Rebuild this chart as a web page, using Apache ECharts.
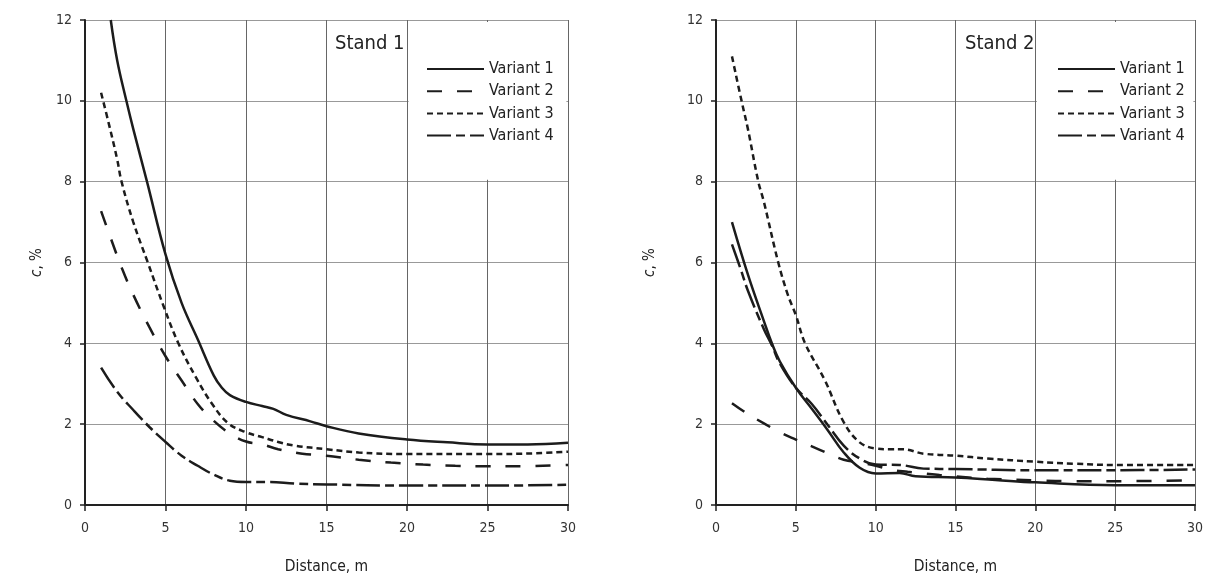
<!DOCTYPE html>
<html>
<head>
<meta charset="utf-8">
<script src="https://cdn.jsdelivr.net/npm/echarts@6/dist/echarts.min.js"></script>
<style>
  body { margin: 0; background: #fff; }
  #wrap { position: relative; width: 1206px; height: 581px; }
  .chart { position: absolute; top: 0; width: 603px; height: 581px; }
</style>
</head>
<body>
<div id="wrap">
  <div id="c1" class="chart" style="left:0"></div>
  <div id="c2" class="chart" style="left:603px"></div>
</div>
<script>
// Stand 1 — [distance m, c %]
const stand1_v1 = [[1.6, 12.0], [2, 11.0], [2.57, 10.0], [3, 9.3], [3.85, 8.0], [5, 6.2], [6, 5.0], [7, 4.1],
  [8, 3.2], [8.5, 2.9], [9, 2.72], [10, 2.55], [11, 2.45], [11.7, 2.38], [12.5, 2.23], [14, 2.07], [15, 1.95],
  [17, 1.77], [20, 1.62], [22.5, 1.55], [25, 1.5], [27.5, 1.5], [30, 1.54]];
const stand1_v2 = [[1, 7.27], [1.6, 6.6], [2.3, 5.85], [3, 5.2], [4, 4.4], [5, 3.68], [6, 3.08], [7, 2.5],
  [8, 2.08], [9, 1.77], [10, 1.57], [11, 1.5], [12, 1.38], [13.5, 1.27], [15, 1.22], [17, 1.12], [19, 1.05],
  [21, 1.0], [23, 0.97], [25, 0.96], [27, 0.96], [30, 0.99]];
const stand1_v3 = [[1, 10.2], [1.5, 9.4], [2, 8.55], [2.27, 8.0], [3, 7.0], [3.9, 6.0], [4.9, 4.9], [5.8, 4.0],
  [6.9, 3.15], [7.9, 2.5], [8.9, 2.02], [10, 1.8], [11, 1.68], [12, 1.56], [13, 1.47], [15, 1.38], [17, 1.3],
  [20, 1.26], [25, 1.26], [28, 1.28], [30, 1.32]];
const stand1_v4 = [[1, 3.4], [2, 2.8], [3, 2.35], [4, 1.93], [5, 1.56], [6, 1.22], [7, 0.97], [8, 0.75],
  [9, 0.6], [10, 0.57], [11.5, 0.57], [13, 0.53], [15, 0.51], [20, 0.48], [25, 0.48], [30, 0.5]];

// Stand 2
const stand2_v1 = [[1, 7.0], [2, 5.7], [3, 4.55], [3.5, 4.0], [4, 3.55], [5, 2.9], [6, 2.38], [7, 1.85],
  [8, 1.3], [9, 0.92], [10, 0.78], [11.5, 0.79], [12.5, 0.71], [15, 0.68], [17.5, 0.62], [20, 0.56],
  [25, 0.49], [30, 0.49]];
const stand2_v2 = [[1, 2.52], [2, 2.25], [3, 2.02], [4, 1.8], [5, 1.62], [6, 1.45], [7, 1.28], [8, 1.12],
  [9, 1.05], [10, 0.97], [11, 0.87], [12, 0.82], [13, 0.78], [14, 0.74], [15, 0.71], [17, 0.65], [20, 0.61],
  [22.5, 0.59], [25, 0.59], [30, 0.61]];
const stand2_v3 = [[1, 11.1], [1.6, 10.0], [2, 9.3], [2.65, 8.0], [3, 7.5], [3.9, 6.0], [4.5, 5.2], [5, 4.7],
  [5.58, 4.0], [6.8, 3.1], [8, 2.05], [9, 1.55], [10, 1.4], [11, 1.38], [11.7, 1.38], [13, 1.27], [15, 1.22],
  [17, 1.15], [20, 1.07], [22.5, 1.02], [25, 0.99], [30, 0.99]];
const stand2_v4 = [[1, 6.45], [1.56, 5.82], [2, 5.3], [3, 4.35], [3.5, 3.95], [4, 3.5], [5, 2.9], [6, 2.5],
  [7, 1.98], [8, 1.47], [9, 1.15], [10, 1.0], [11.5, 0.99], [13, 0.9], [15, 0.89], [20, 0.86], [25, 0.86],
  [30, 0.88]];

const variantNames = ["Variant 1", "Variant 2", "Variant 3", "Variant 4"];
const dashTypes = ["solid", [15, 15], [6, 4], [24, 5, 9, 5]];

const FONT = "'DejaVu Sans Condensed', 'Liberation Sans Narrow', sans-serif";
const INK = "#1c1c1c";

function makeOption(title, seriesData, opts) {
  return {
    animation: false,
    textStyle: { fontFamily: FONT },
    title: {
      text: title,
      left: opts.titleLeft,
      top: 34,
      padding: 0,
      textStyle: { fontFamily: FONT, fontSize: 20, fontWeight: "normal", color: "#222" },
    },
    legend: {
      data: variantNames,
      orient: "vertical",
      left: opts.legendLeft,
      top: 61,
      padding: 0,
      itemWidth: 57,
      itemHeight: 14,
      itemGap: 6.2,
      itemStyle: { color: "rgba(0,0,0,0)", borderColor: "rgba(0,0,0,0)", borderWidth: 0 },
      textStyle: { fontFamily: FONT, fontSize: 16, color: "#222" },
    },
    grid: { left: opts.gridLeft, top: 20, width: 483, height: 485 },
    xAxis: {
      type: "value",
      min: 0,
      max: 30,
      interval: 5,
      name: "Distance, m",
      nameLocation: "middle",
      nameGap: 54,
      nameTextStyle: { fontFamily: FONT, fontSize: 15.5, color: "#222" },
      axisLine: { lineStyle: { color: "#222", width: 2 } },
      axisTick: { length: 6, lineStyle: { color: "#222", width: 1.5 } },
      axisLabel: { margin: 16, fontFamily: FONT, fontSize: 14, color: "#333" },
      splitLine: { lineStyle: { color: "#666", width: 1 } },
    },
    yAxis: {
      type: "value",
      min: 0,
      max: 12,
      interval: 2,
      name: "{i|c}, %",
      nameLocation: "middle",
      nameRotate: 90,
      nameGap: opts.yNameGap,
      nameTextStyle: {
        fontFamily: FONT, fontSize: 15, color: "#222",
        rich: { i: { fontStyle: "italic", fontFamily: FONT, fontSize: 15, color: "#222" } },
      },
      axisLine: { show: true, lineStyle: { color: "#222", width: 2 } },
      axisTick: { show: true, length: 5, lineStyle: { color: "#222", width: 1.5 } },
      axisLabel: { margin: 13, fontFamily: FONT, fontSize: 14, color: "#333" },
      splitLine: { lineStyle: { color: "#999", width: 1 } },
    },
    series: seriesData.map((d, i) => ({
      name: variantNames[i],
      type: "line",
      data: d,
      symbol: "none",
      smooth: 0.4,
      lineStyle: { color: INK, width: 2.5, type: dashTypes[i] },
      itemStyle: { color: INK },
      // white box behind the legend hides the grid there
      markArea: i === 0 ? {
        silent: true,
        itemStyle: { color: "#fff", opacity: 1, borderWidth: 0 },
        data: [[{ coord: [20.1, 8.05] }, { coord: [29.9, 11.95] }]],
      } : undefined,
    })),
  };
}

const chart1 = echarts.init(document.getElementById("c1"));
chart1.setOption(makeOption("Stand 1", [stand1_v1, stand1_v2, stand1_v3, stand1_v4],
  { gridLeft: 85, legendLeft: 426, titleLeft: 335, yNameGap: 35 }));

const chart2 = echarts.init(document.getElementById("c2"));
chart2.setOption(makeOption("Stand 2", [stand2_v1, stand2_v2, stand2_v3, stand2_v4],
  { gridLeft: 113, legendLeft: 454, titleLeft: 362, yNameGap: 58 }));
</script>
</body>
</html>
